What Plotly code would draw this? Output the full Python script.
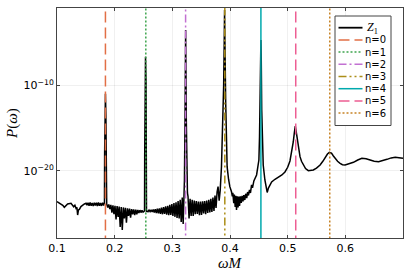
import plotly.graph_objects as go

# ---------------- data ----------------
omega = [
    0.1000, 0.1035, 0.1070, 0.1100, 0.1127, 0.1155, 0.1184, 0.1243, 0.1265, 0.1289,
    0.1310, 0.1330, 0.1345, 0.1358, 0.1372, 0.1388, 0.1415, 0.1445, 0.1475, 0.1504,
    0.1520, 0.1538, 0.1556, 0.1574, 0.1592, 0.1610, 0.1628, 0.1646, 0.1664, 0.1682,
    0.1700, 0.1718, 0.1736, 0.1754, 0.1772, 0.1790, 0.1808, 0.1818,
    0.1823, 0.1826, 0.1832, 0.1840, 0.1848, 0.1854, 0.1857,
    0.1862, 0.1880, 0.1898, 0.1916, 0.1934, 0.1952, 0.1970, 0.1988, 0.2006, 0.2024,
    0.2042, 0.2060, 0.2078, 0.2096, 0.2114, 0.2132, 0.2150, 0.2168, 0.2186, 0.2204,
    0.2222, 0.2240, 0.2258, 0.2276, 0.2294, 0.2312, 0.2330, 0.2348, 0.2366, 0.2384,
    0.2402, 0.2420, 0.2438, 0.2456, 0.2474, 0.2492, 0.2508,
    0.2518, 0.2521, 0.2526, 0.2535, 0.2544, 0.2549, 0.2552,
    0.2560, 0.2578, 0.2596, 0.2614, 0.2632, 0.2650, 0.2668, 0.2686, 0.2704, 0.2722,
    0.2740, 0.2758, 0.2776, 0.2794, 0.2812, 0.2830, 0.2848, 0.2866, 0.2884, 0.2902,
    0.2920, 0.2938, 0.2956, 0.2974, 0.2992, 0.3010, 0.3028, 0.3046, 0.3064, 0.3082,
    0.3100, 0.3118, 0.3136, 0.3154, 0.3172, 0.3188, 0.3200,
    0.3210, 0.3220, 0.3227, 0.3231, 0.3235, 0.3242, 0.3252, 0.3262,
    0.3272, 0.3290, 0.3308, 0.3326, 0.3344, 0.3362, 0.3380, 0.3398, 0.3416, 0.3434,
    0.3452, 0.3470, 0.3488, 0.3506, 0.3524, 0.3542, 0.3560, 0.3578, 0.3596, 0.3614,
    0.3632, 0.3650, 0.3668, 0.3686, 0.3704, 0.3722, 0.3740, 0.3758, 0.3776, 0.3793,
    0.3812, 0.3830, 0.3852, 0.3875, 0.3890, 0.3900, 0.3906, 0.3912, 0.3925, 0.3940,
    0.3950, 0.3975, 0.3997, 0.4026, 0.4040, 0.4049, 0.4065, 0.4075, 0.4090, 0.4100,
    0.4113, 0.4125, 0.4140, 0.4152, 0.4165, 0.4180, 0.4195, 0.4210, 0.4225, 0.4240,
    0.4257, 0.4272, 0.4290, 0.4305, 0.4320, 0.4338, 0.4355, 0.4374, 0.4390, 0.4414,
    0.4440, 0.4461, 0.4484, 0.4501, 0.4512, 0.4522, 0.4530, 0.4536, 0.4542, 0.4550,
    0.4562, 0.4576, 0.4605, 0.4631, 0.4645, 0.4666, 0.4722, 0.4780, 0.4837, 0.4900,
    0.4953, 0.5000, 0.5040, 0.5070, 0.5097, 0.5115, 0.5132, 0.5150, 0.5174, 0.5195,
    0.5214, 0.5240, 0.5271, 0.5310, 0.5358, 0.5400, 0.5445, 0.5500, 0.5562, 0.5610,
    0.5649, 0.5690, 0.5723, 0.5760, 0.5790, 0.5822, 0.5865, 0.5909, 0.5950, 0.5996,
    0.6070, 0.6141, 0.6215, 0.6287, 0.6360, 0.6431, 0.6500, 0.6576, 0.6650, 0.6722,
    0.6795, 0.6866, 0.6930, 0.7000,
]
log10_power = [
    -23.62, -23.75, -23.89, -24.05, -24.28, -24.10, -23.89, -23.82, -24.00, -24.22,
    -24.05, -24.41, -24.30, -25.19, -24.60, -24.53, -24.20, -24.00, -23.90, -23.82,
    -24.05, -23.75, -24.12, -23.72, -24.10, -23.78, -24.15, -23.74, -24.08, -23.76,
    -24.14, -23.73, -24.10, -23.77, -24.12, -23.74, -24.08, -23.80,
    -23.80, -18.00, -13.50, -11.00, -13.50, -18.00, -23.70,
    -23.90, -24.30, -23.95, -24.50, -24.00, -24.90, -24.05, -25.10, -24.10, -25.70,
    -24.15, -25.40, -24.20, -26.60, -24.25, -26.94, -24.30, -25.60, -24.35, -26.10,
    -24.40, -25.30, -24.45, -25.50, -24.50, -25.10, -24.52, -25.20, -24.55, -25.10,
    -24.60, -24.95, -24.62, -24.90, -24.65, -24.85, -24.70,
    -24.70, -18.00, -9.50, -6.65, -9.50, -18.00, -24.75,
    -24.72, -24.80, -24.62, -24.80, -24.58, -24.82, -24.54, -24.90, -24.50, -24.95,
    -24.46, -25.00, -24.40, -25.05, -24.33, -25.10, -24.26, -25.07, -24.18, -25.15,
    -24.10, -25.20, -24.00, -25.19, -23.90, -25.30, -23.80, -25.40, -23.70, -25.54,
    -23.55, -25.60, -23.40, -26.00, -23.15, -26.24, -22.60,
    -21.10, -14.00, -7.00, -3.53, -7.00, -14.00, -21.10, -22.60,
    -23.00, -25.60, -23.30, -25.30, -23.40, -25.31, -23.50, -25.10, -23.55, -25.07,
    -23.60, -25.20, -23.60, -25.19, -23.58, -25.00, -23.55, -25.10, -23.50, -24.95,
    -23.40, -24.90, -23.30, -24.84, -23.15, -24.70, -22.90, -24.37, -22.50, -21.87,
    -23.50, -22.30, -19.53, -15.20, -10.00, -5.00, -1.18, -5.00, -12.00, -17.00,
    -19.53, -21.00, -21.87, -22.46, -23.00, -22.60, -23.80, -22.80, -24.25, -22.95,
    -24.60, -23.00, -24.30, -23.04, -24.13, -23.00, -23.78, -22.95, -23.60, -22.85,
    -23.43, -22.70, -23.20, -22.50, -22.90, -22.25, -22.60, -21.67, -22.00, -21.20,
    -20.90, -20.50, -19.50, -18.75, -16.00, -11.72, -7.00, -4.70, -7.00, -12.90,
    -17.58, -19.33, -21.09, -22.26, -22.55, -22.03, -21.32, -21.00, -20.80, -20.50,
    -20.15, -19.60, -18.86, -17.90, -16.64, -15.60, -14.77, -15.50, -16.76, -17.70,
    -18.36, -18.90, -19.33, -19.75, -20.00, -20.00, -19.92, -19.70, -19.33, -18.90,
    -18.43, -18.05, -17.85, -17.95, -18.25, -18.55, -18.90, -19.13, -19.30, -19.33,
    -19.20, -19.02, -18.75, -18.55, -18.60, -18.75, -18.90, -18.95, -18.85, -18.67,
    -18.50, -18.43, -18.48, -18.55,
]
power = [10 ** v for v in log10_power]

qnm_labels = ["n=0", "n=1", "n=2", "n=3", "n=4", "n=5", "n=6"]
qnm_omega = [0.184, 0.254, 0.323, 0.391, 0.4536, 0.514, 0.573]

x_ticks = [0.1, 0.2, 0.3, 0.4, 0.5, 0.6]
x_tick_text = ["0.1", "0.2", "0.3", "0.4", "0.5", "0.6"]
y_ticks = [1e-20, 1e-10]
y_tick_text = ["10<sup>\u221220</sup>", "10<sup>\u221210</sup>"]
x_range = [0.1, 0.7]
y_log_range = [-27.88, -0.95]

# ---------------- styling ----------------
qnm_colors = ["#e26f46", "#3da44d", "#c271d2", "#ac8e18", "#00a9ad", "#ed5e93", "#c68225"]
qnm_dash = ["11px,5px", "2px,2px", "8px,3px,2px,3px", "8px,3px,2px,3px,2px,3px",
            "solid", "11px,5px", "2px,2px"]

W, H = 411, 274
L, R, T, B = 57, 403, 8, 238  # plot area in pixels


def px_x(p):
    return (p - L) / (R - L)


def px_y(p):
    return (B - p) / (B - T)


fig = go.Figure()
fig.add_trace(go.Scatter(x=omega, y=power, mode="lines",
                         line=dict(color="black", width=1.5),
                         showlegend=False, hoverinfo="skip"))
y_span = [10 ** (y_log_range[0] - 1), 10 ** (y_log_range[1] + 1)]
for lab, w, c, d in zip(qnm_labels, qnm_omega, qnm_colors, qnm_dash):
    fig.add_trace(go.Scatter(x=[w, w], y=y_span, mode="lines",
                             line=dict(color=c, width=1.5, dash=d),
                             name=lab, showlegend=False, hoverinfo="skip"))

axis_common = dict(showline=True, linecolor="#444444", linewidth=1, mirror="allticks",
                   ticks="inside", ticklen=3, tickcolor="#444444",
                   showgrid=True, gridcolor="rgba(0,0,0,0.1)", gridwidth=0.6,
                   zeroline=False, automargin=False,
                   tickfont=dict(family="DejaVu Sans", size=11, color="black"))

fig.update_layout(
    width=W, height=H,
    margin=dict(l=L, r=W - R, t=T, b=H - B, autoexpand=False),
    paper_bgcolor="white", plot_bgcolor="white",
    xaxis=dict(range=x_range, tickvals=x_ticks, ticktext=x_tick_text, **axis_common),
    yaxis=dict(type="log", range=y_log_range, tickvals=y_ticks, ticktext=y_tick_text,
               **axis_common),
    showlegend=False,
)

# axis titles
fig.add_annotation(x=0.5, y=px_y(263), xref="paper", yref="paper",
                   xanchor="center", yanchor="middle",
                   text="<i>\u03c9M</i>", showarrow=False,
                   font=dict(family="Liberation Serif", size=15, color="black"))
fig.add_annotation(x=px_x(12), y=px_y(124), xref="paper", yref="paper",
                   xanchor="center", yanchor="middle",
                   text="<i>P</i>(<i>\u03c9</i>)", showarrow=False, textangle=-90,
                   font=dict(family="Liberation Serif", size=15, color="black"))

# legend box (drawn manually)
box_l, box_r, box_t, box_b = 335, 391, 16, 125.5
fig.add_shape(type="rect", xref="paper", yref="paper",
              x0=px_x(box_l), x1=px_x(box_r), y0=px_y(box_b), y1=px_y(box_t),
              line=dict(color="#444444", width=1), fillcolor="white", layer="above")
entry_y0, entry_dy = 27.7, 12.2
samp_l, samp_r, text_r = 338.5, 362.5, 388
legend_names = ["<i>Z</i><sub>1</sub>"] + qnm_labels
legend_colors = ["black"] + qnm_colors
legend_dash = ["solid"] + qnm_dash
for i, (nm, c, d) in enumerate(zip(legend_names, legend_colors, legend_dash)):
    yy = entry_y0 + i * entry_dy
    fig.add_shape(type="line", xref="paper", yref="paper",
                  x0=px_x(samp_l), x1=px_x(samp_r), y0=px_y(yy), y1=px_y(yy),
                  line=dict(color=c, width=1.8 if i == 0 else 1.5, dash=d), layer="above")
    if i == 0:
        fig.add_annotation(x=px_x(365), y=px_y(yy), xref="paper", yref="paper",
                           text=nm, showarrow=False, xanchor="left", yanchor="middle",
                           font=dict(family="Liberation Serif", size=12, color="black"))
    else:
        fig.add_annotation(x=px_x(text_r), y=px_y(yy), xref="paper", yref="paper",
                           text=nm, showarrow=False, xanchor="right", yanchor="middle",
                           font=dict(family="DejaVu Sans", size=10, color="black"))

fig.write_html("out.html",
               config={"displayModeBar": False, "staticPlot": True},
               post_script="document.body.style.margin='0';document.body.style.padding='0';")
